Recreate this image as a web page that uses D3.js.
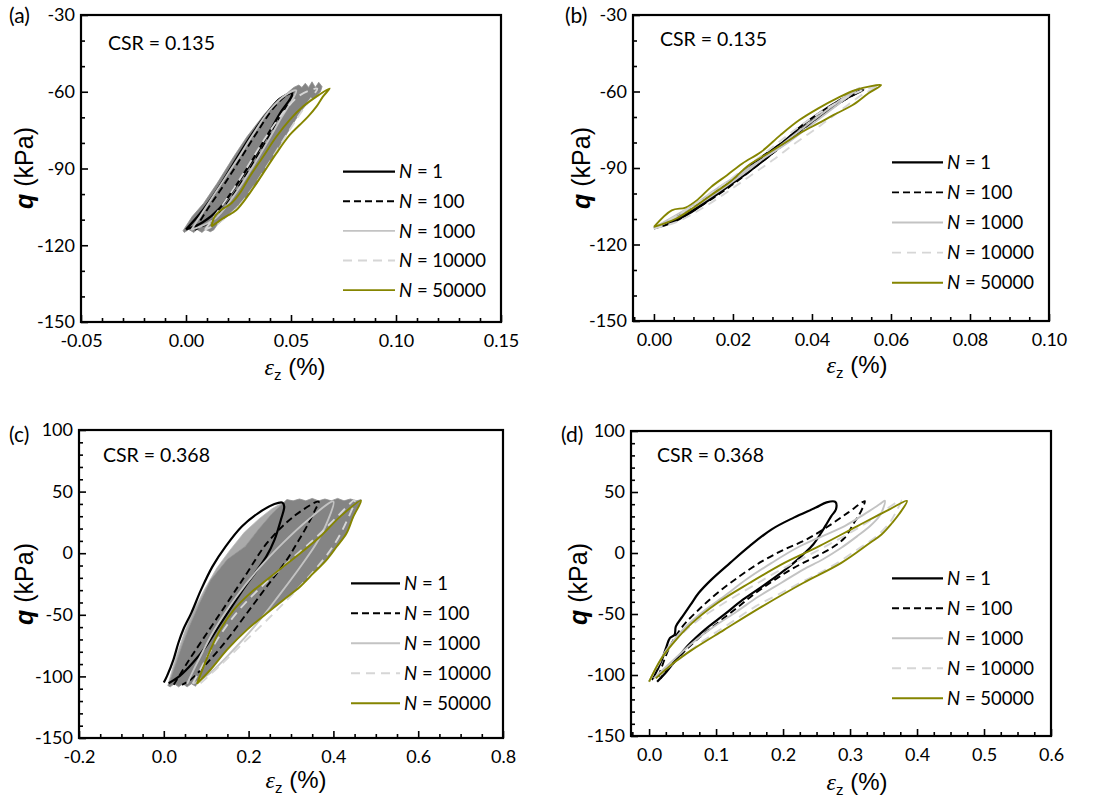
<!DOCTYPE html>
<html>
<head>
<meta charset="utf-8">
<script src="https://cdn.jsdelivr.net/npm/d3@7"></script>
<style>
  body { margin: 0; background: #fff; }
  .lato { font-family: Lato, "DejaVu Sans", sans-serif; }
  .arial { font-family: "Liberation Sans", Arial, sans-serif; }
</style>
</head>
<body>
<svg id="chart" width="1103" height="805"></svg>
<script>
// ---- tick labels ----
const aXTicks = [-0.05, 0, 0.05, 0.10, 0.15];
const bXTicks = [0, 0.02, 0.04, 0.06, 0.08, 0.10];
const cXTicks = [-0.2, 0, 0.2, 0.4, 0.6, 0.8];
const dXTicks = [0, 0.1, 0.2, 0.3, 0.4, 0.5, 0.6];
const abYTicks = [-150, -120, -90, -60, -30];
const cdYTicks = [-150, -100, -50, 0, 50, 100];

const legendLabels = ["1", "100", "1000", "10000", "50000"];

// ---- panel (a) CSR = 0.135, [strain %, q kPa] ----
const aBand = [[-0.0014,-114.3],[0.0029,-108.8],[0.0084,-103.6],[0.0148,-95.8],[0.0227,-85.4],[0.0290,-77.6],[0.0370,-69.1],[0.0433,-63.2],[0.0481,-60.6],[0.0513,-58.3],[0.0537,-57.4],[0.0552,-58.3],[0.0568,-56.7],[0.0584,-58.3],[0.0600,-56.1],[0.0616,-58.3],[0.0632,-56.3],[0.0648,-58.0],[0.0640,-60.0],[0.0616,-61.9],[0.0584,-64.0],[0.0552,-67.1],[0.0521,-71.0],[0.0481,-76.3],[0.0433,-82.8],[0.0386,-89.3],[0.0338,-95.8],[0.0290,-101.0],[0.0243,-104.9],[0.0195,-108.8],[0.0148,-112.1],[0.0132,-114.0],[0.0116,-114.7],[0.0092,-113.8],[0.0076,-115.0],[0.0052,-113.8],[0.0037,-115.0],[0.0013,-113.8],[-0.0008,-115.0]];
const aN1 = [[0.0,-113.8],[0.0068,-107.5],[0.0148,-98.4],[0.0227,-88.0],[0.0306,-77.6],[0.0386,-68.4],[0.0449,-62.6],[0.0505,-60.6],[0.0500,-62.2],[0.0455,-67.5],[0.0395,-76.0],[0.0318,-86.5],[0.0240,-96.5],[0.0160,-105.5],[0.0080,-111.0],[0.0,-113.8]];
const aN100 = [[0.0041,-114.0],[0.0100,-106.2],[0.0180,-96.5],[0.0260,-86.1],[0.0340,-75.6],[0.0420,-66.0],[0.0480,-61.3],[0.0515,-60.0],[0.0500,-63.0],[0.0440,-71.0],[0.0370,-81.0],[0.0290,-92.0],[0.0210,-102.0],[0.0130,-110.0],[0.0041,-114.0]];
const aN1000 = [[0.0025,-114.0],[0.0080,-107.0],[0.0160,-97.0],[0.0240,-87.0],[0.0320,-76.5],[0.0400,-67.0],[0.0470,-61.5],[0.0525,-59.5],[0.0510,-62.5],[0.0455,-70.0],[0.0385,-80.0],[0.0305,-91.0],[0.0225,-101.0],[0.0140,-109.5],[0.0025,-114.0]];
const aN10000 = [[0.0090,-114.0],[0.0150,-107.0],[0.0230,-97.5],[0.0310,-87.0],[0.0390,-76.5],[0.0470,-67.5],[0.0540,-61.5],[0.0625,-58.8],[0.0600,-62.0],[0.0540,-69.0],[0.0470,-78.0],[0.0390,-88.5],[0.0310,-98.5],[0.0230,-106.5],[0.0150,-111.5],[0.0090,-114.0]];
const aN50000 = [[0.0121,-112.7],[0.0137,-108.8],[0.0168,-106.2],[0.0216,-103.6],[0.0256,-99.7],[0.0303,-93.2],[0.0367,-85.4],[0.0430,-77.6],[0.0494,-71.0],[0.0557,-65.8],[0.0621,-61.9],[0.0684,-58.7],[0.0652,-61.9],[0.0621,-65.8],[0.0581,-69.7],[0.0541,-73.0],[0.0494,-76.9],[0.0430,-84.1],[0.0367,-91.9],[0.0303,-99.7],[0.0240,-106.2],[0.0176,-109.5],[0.0121,-112.7]];

// ---- panel (b) CSR = 0.135 ----
const bN1 = [[0,-113.7],[0.0041,-111.1],[0.0089,-107.2],[0.0137,-101.9],[0.0185,-96.7],[0.0233,-90.2],[0.0280,-84.9],[0.0328,-79.7],[0.0376,-73.2],[0.0424,-67.9],[0.0471,-63.4],[0.0530,-59.4],[0.0490,-62.5],[0.0440,-67.5],[0.0390,-73.0],[0.0340,-79.0],[0.0290,-85.5],[0.0240,-91.5],[0.0190,-97.0],[0.0140,-102.5],[0.0090,-107.8],[0.0045,-111.5],[0,-113.7]];
const bN100 = [[0.0005,-113.5],[0.0100,-105.5],[0.0200,-94.5],[0.0300,-83.0],[0.0400,-71.5],[0.0480,-62.5],[0.0525,-59.5],[0.0470,-64.5],[0.0390,-73.5],[0.0290,-85.5],[0.0190,-97.5],[0.0090,-107.5],[0.0005,-113.5]];
const bN1000 = [[0,-113.5],[0.0050,-109.0],[0.0100,-104.5],[0.0165,-97.5],[0.0220,-92.0],[0.0285,-85.5],[0.0340,-80.0],[0.0395,-73.5],[0.0450,-67.0],[0.0500,-61.0],[0.0520,-58.5],[0.0480,-62.5],[0.0410,-70.5],[0.0330,-80.0],[0.0250,-89.5],[0.0170,-98.5],[0.0090,-106.5],[0.0030,-111.5],[0,-113.5]];
const bN10000 = [[0,-113.8],[0.0060,-111.0],[0.0120,-106.0],[0.0180,-100.0],[0.0240,-93.5],[0.0300,-87.0],[0.0360,-80.0],[0.0420,-73.5],[0.0480,-66.5],[0.0530,-61.0],[0.0570,-58.0],[0.0520,-60.0],[0.0450,-65.5],[0.0370,-73.5],[0.0290,-83.0],[0.0210,-92.5],[0.0130,-101.5],[0.0060,-108.5],[0,-113.8]];
const bN50000 = [[0,-113.1],[0.0045,-106.6],[0.0080,-105.5],[0.0110,-102.5],[0.0145,-97.4],[0.0185,-92.8],[0.0224,-88.2],[0.0272,-83.6],[0.0320,-77.1],[0.0368,-71.2],[0.0416,-66.6],[0.0463,-62.7],[0.0511,-59.4],[0.0575,-57.5],[0.0543,-60.7],[0.0503,-65.3],[0.0455,-69.2],[0.0416,-72.5],[0.0376,-75.8],[0.0336,-79.7],[0.0288,-84.3],[0.0240,-88.9],[0.0193,-95.4],[0.0145,-100.6],[0.0097,-105.9],[0.0057,-109.8],[0.0025,-111.8],[0,-113.1]];

// ---- panel (c) CSR = 0.368 ----
const cBand = [[0.010,-107.5],[0.018,-100],[0.030,-88],[0.045,-73],[0.062,-58],[0.085,-40],[0.111,-21.5],[0.150,-5],[0.192,5.5],[0.225,20],[0.255,32],[0.280,40],[0.290,43.5],[0.305,42.5],[0.320,44],[0.335,42.5],[0.350,44.5],[0.365,42.5],[0.380,44],[0.395,42.5],[0.410,44.5],[0.425,42.5],[0.440,44],[0.455,42.5],[0.465,43.5],[0.465,42.7],[0.447,29.7],[0.431,16.2],[0.408,5.4],[0.384,-5.4],[0.353,-16.2],[0.322,-27.0],[0.282,-37.9],[0.243,-48.7],[0.196,-62.2],[0.149,-78.4],[0.110,-94.6],[0.078,-106.0],[0.075,-108],[0.065,-106],[0.055,-108.5],[0.045,-106],[0.035,-108.5],[0.025,-106],[0.015,-108.5]];
const cFan = [[0.012,-104],[0.022,-92],[0.035,-78],[0.050,-63],[0.070,-47],[0.095,-30],[0.125,-12],[0.155,2],[0.190,17],[0.225,28],[0.255,36],[0.275,40],[0.280,40],[0.255,32],[0.225,20],[0.192,5.5],[0.150,-5],[0.111,-21.5],[0.085,-40],[0.062,-58],[0.045,-73],[0.030,-88],[0.018,-100],[0.010,-107.5]];
const cN1 = [[0,-105],[0.0077,-99.6],[0.023,-86.1],[0.0345,-72.7],[0.046,-61.9],[0.065,-48.4],[0.088,-29.6],[0.115,-10.7],[0.146,5.5],[0.184,21.6],[0.222,32.4],[0.261,39.9],[0.280,41.0],[0.284,37.8],[0.276,27.0],[0.261,10.8],[0.242,-2.6],[0.215,-16.1],[0.192,-26.9],[0.161,-43.0],[0.130,-59.2],[0.100,-75.4],[0.069,-88.8],[0.038,-99.6],[0.0115,-105.5]];
const cN100 = [[0.0235,-106.8],[0.055,-89.2],[0.086,-73.0],[0.149,-40.6],[0.196,-16.2],[0.243,8.1],[0.306,29.7],[0.365,41.9],[0.357,35.1],[0.337,21.6],[0.314,8.1],[0.290,-5.4],[0.243,-27.0],[0.196,-48.7],[0.149,-70.3],[0.102,-89.2],[0.063,-102.7],[0.043,-106.8]];
const cN1000 = [[0.055,-106],[0.08,-88],[0.12,-62],[0.17,-36],[0.22,-14],[0.28,8],[0.34,27],[0.40,42],[0.385,25],[0.36,8],[0.32,-12],[0.27,-35],[0.22,-57],[0.16,-80],[0.11,-97],[0.07,-106]];
const cN10000 = [[0.068,-106],[0.09,-92],[0.13,-68],[0.18,-45],[0.24,-24],[0.30,-5],[0.36,13],[0.41,30],[0.45,43],[0.43,25],[0.40,6],[0.36,-12],[0.31,-31],[0.25,-52],[0.19,-72],[0.13,-92],[0.085,-106]];
const cN50000 = [[0.078,-106.0],[0.094,-91.9],[0.110,-78.4],[0.133,-62.2],[0.165,-46.0],[0.204,-32.4],[0.243,-21.6],[0.282,-10.8],[0.322,0],[0.369,13.5],[0.416,29.7],[0.465,42.7],[0.447,29.7],[0.431,16.2],[0.408,5.4],[0.384,-5.4],[0.353,-16.2],[0.322,-27.0],[0.282,-37.9],[0.243,-48.7],[0.196,-62.2],[0.149,-78.4],[0.110,-94.6],[0.078,-106.0]];

// ---- panel (d) CSR = 0.368 ----
const dN1 = [[0.004,-104],[0.007,-101.4],[0.019,-87.7],[0.026,-76.7],[0.031,-69.8],[0.038,-67.1],[0.040,-60.2],[0.050,-52.0],[0.062,-42.4],[0.074,-32.8],[0.093,-21.8],[0.121,-8.1],[0.150,5.6],[0.183,19.4],[0.216,29.0],[0.249,37.2],[0.265,41.5],[0.278,41.9],[0.279,35.8],[0.272,30.3],[0.266,24.8],[0.257,16.6],[0.245,7.0],[0.230,-1.2],[0.216,-8.1],[0.197,-16.3],[0.169,-27.3],[0.140,-38.3],[0.112,-50.6],[0.083,-63.0],[0.059,-75.3],[0.040,-87.7],[0.026,-97.3],[0.012,-105.5]];
const dN100 = [[0.014,-101.4],[0.031,-76.7],[0.050,-60.2],[0.074,-46.5],[0.102,-32.8],[0.135,-19.1],[0.169,-6.7],[0.202,2.9],[0.235,11.1],[0.268,22.1],[0.297,33.1],[0.322,42.5],[0.321,39.9],[0.314,31.7],[0.306,24.8],[0.292,12.5],[0.273,4.3],[0.245,-4.0],[0.216,-12.2],[0.188,-21.8],[0.159,-32.8],[0.131,-45.1],[0.102,-57.5],[0.074,-69.8],[0.050,-82.2],[0.031,-93.2],[0.017,-102.8]];
const dN1000 = [[0,-105.5],[0.026,-79.4],[0.050,-63.0],[0.078,-49.2],[0.112,-35.5],[0.145,-21.8],[0.183,-8.1],[0.221,4.3],[0.259,13.9],[0.292,22.1],[0.321,31.7],[0.344,39.9],[0.352,42.8],[0.349,35.8],[0.344,30.3],[0.330,22.1],[0.311,13.9],[0.287,4.3],[0.259,-5.3],[0.230,-13.6],[0.197,-24.6],[0.164,-35.5],[0.131,-47.9],[0.097,-60.2],[0.064,-73.9],[0.031,-90.4],[0.007,-102.8]];
const dN10000 = [[0,-105.5],[0.021,-84.9],[0.045,-68.5],[0.074,-54.7],[0.112,-41.0],[0.154,-27.3],[0.197,-13.6],[0.245,0.1],[0.287,12.5],[0.325,24.8],[0.354,35.8],[0.376,43.0],[0.368,33.1],[0.359,24.8],[0.340,13.9],[0.311,2.9],[0.273,-10.8],[0.235,-21.8],[0.197,-32.8],[0.159,-43.8],[0.121,-57.5],[0.083,-71.2],[0.050,-84.9],[0.017,-98.6]];
const dN50000 = [[0,-105.5],[0.017,-87.7],[0.036,-73.9],[0.064,-57.5],[0.102,-41.0],[0.150,-24.6],[0.202,-8.1],[0.254,5.6],[0.311,22.1],[0.359,35.8],[0.385,42.7],[0.373,31.7],[0.363,24.8],[0.347,15.2],[0.330,8.4],[0.287,-8.1],[0.230,-24.6],[0.169,-43.8],[0.112,-63.0],[0.064,-79.4],[0.036,-90.4],[0.010,-102.8]];

// ---- styles for N = 1, 100, 1000, 10000, 50000 ----
const seriesStyle = [
  { stroke: "#000000", width: 2.2, dash: null },
  { stroke: "#000000", width: 1.9, dash: "7,4" },
  { stroke: "#c3c3c3", width: 1.9, dash: null },
  { stroke: "#d6d6d6", width: 1.9, dash: "9,6" },
  { stroke: "#858500", width: 1.9, dash: null }
];

const panels = [
  { tag: "(a)", box: [81, 501, 15, 322], xd: [-0.05, 0.15], yd: [-150, -30],
    xt: aXTicks, xm: 0.01, yt: abYTicks, ym: 10, dec: 2,
    series: [aN1, aN100, aN1000, aN10000, aN50000], band: aBand, fan: null,
    csr: "CSR = 0.135", csrAt: [108, 50], tagAt: [9, 23], leg: [343, 395, 171.7, 29.6],
    yTitle: [24, 168], xTitle: [295, 375] },
  { tag: "(b)", box: [633, 1049, 15, 321], xd: [-0.0053, 0.10], yd: [-150, -30],
    xt: bXTicks, xm: 0.005, yt: abYTicks, ym: 10, dec: 2,
    series: [bN1, bN100, bN1000, bN10000, bN50000], band: null, fan: null,
    csr: "CSR = 0.135", csrAt: [660, 46], tagAt: [565, 23], leg: [892, 943, 162.3, 30.1],
    yTitle: [581, 168], xTitle: [857, 373] },
  { tag: "(c)", box: [79, 503, 430, 738], xd: [-0.2, 0.8], yd: [-150, 100],
    xt: cXTicks, xm: 0.05, yt: cdYTicks, ym: 10, dec: 1,
    series: [cN1, cN100, cN1000, cN10000, cN50000], band: cBand, fan: cFan,
    csr: "CSR = 0.368", csrAt: [103, 462], tagAt: [9, 442], leg: [351, 400, 583.3, 30],
    yTitle: [24, 584], xTitle: [296, 788] },
  { tag: "(d)", box: [631, 1051, 431, 736], xd: [-0.027, 0.6], yd: [-150, 100],
    xt: dXTicks, xm: 0.025, yt: cdYTicks, ym: 10, dec: 1,
    series: [dN1, dN100, dN1000, dN10000, dN50000], band: null, fan: null,
    csr: "CSR = 0.368", csrAt: [657, 462], tagAt: [561, 442], leg: [892, 943, 578.3, 30],
    yTitle: [578, 584], xTitle: [857, 790] }
];

const svg = d3.select("#chart");
const hyphen = s => s.replace("\u2212", "-");

function minorTicks(domain, step, majors) {
  const out = [];
  const start = Math.ceil(domain[0] / step - 1e-6);
  const end = Math.floor(domain[1] / step + 1e-6);
  for (let i = start; i <= end; i++) {
    const v = +(i * step).toFixed(6);
    if (!majors.some(m => Math.abs(m - v) < step / 10)) out.push(v);
  }
  return out;
}

panels.forEach(p => {
  const [l, r, t, b] = p.box;
  const x = d3.scaleLinear().domain(p.xd).range([l, r]);
  const y = d3.scaleLinear().domain(p.yd).range([b, t]);
  const g = svg.append("g");

  const line = d3.line().x(d => x(d[0])).y(d => y(d[1])).curve(d3.curveCatmullRom.alpha(0.5));
  const poly = d3.line().x(d => x(d[0])).y(d => y(d[1])).curve(d3.curveLinearClosed);

  // intermediate cycles drawn as grey envelope
  if (p.fan) g.append("path").attr("d", poly(p.fan)).attr("fill", "#aaaaaa").attr("stroke", "#b9b9b9").attr("stroke-width", 0.8);
  if (p.band) g.append("path").attr("d", poly(p.band)).attr("fill", "#848484").attr("stroke", "#8f8f8f").attr("stroke-width", 0.8);

  // cycle loops
  p.series.forEach((s, i) => {
    const st = seriesStyle[i];
    g.append("path").attr("d", line(s)).attr("fill", "none")
      .attr("stroke", st.stroke).attr("stroke-width", st.width)
      .attr("stroke-dasharray", st.dash).attr("stroke-linejoin", "round");
  });

  // axes (ticks inward)
  const fmtX = d => hyphen(d3.format(`.${p.dec}f`)(d));
  const fmtY = d => hyphen(d3.format("d")(d));
  const xAxis = g.append("g").attr("transform", `translate(0,${b})`)
    .call(d3.axisBottom(x).tickValues(p.xt).tickSize(-7).tickPadding(12).tickFormat(fmtX));
  const xMinor = g.append("g").attr("transform", `translate(0,${b})`)
    .call(d3.axisBottom(x).tickValues(minorTicks(p.xd, p.xm, p.xt)).tickSize(-4).tickFormat(""));
  const yAxis = g.append("g").attr("transform", `translate(${l},0)`)
    .call(d3.axisLeft(y).tickValues(p.yt).tickSize(-7).tickPadding(6).tickFormat(fmtY));
  const yMinor = g.append("g").attr("transform", `translate(${l},0)`)
    .call(d3.axisLeft(y).tickValues(minorTicks(p.yd, p.ym, p.yt)).tickSize(-4).tickFormat(""));
  [xAxis, xMinor, yAxis, yMinor].forEach(a => {
    a.select(".domain").remove();
    a.attr("font-family", null).attr("font-size", null);
    a.selectAll("line").attr("stroke", "#000").attr("stroke-width", 1.6);
    a.selectAll("text").attr("class", "lato").attr("font-size", 18).attr("fill", "#000");
  });

  g.append("rect").attr("x", l).attr("y", t).attr("width", r - l).attr("height", b - t)
    .attr("fill", "none").attr("stroke", "#000").attr("stroke-width", 2.2);

  // labels
  g.append("text").attr("class", "lato").attr("x", p.tagAt[0]).attr("y", p.tagAt[1])
    .attr("font-size", 21).text(p.tag);
  g.append("text").attr("class", "lato").attr("x", p.csrAt[0]).attr("y", p.csrAt[1])
    .attr("font-size", 19.5).text(p.csr);

  const yt = g.append("text").attr("class", "arial").attr("font-size", 25)
    .attr("text-anchor", "middle")
    .attr("transform", `translate(${p.yTitle[0]},${p.yTitle[1]}) rotate(-90)`).attr("dy", "0.35em");
  yt.append("tspan").attr("font-style", "italic").attr("font-weight", "bold").text("q");
  yt.append("tspan").text(" (kPa)");

  const xt = g.append("text").attr("class", "arial").attr("font-size", 24)
    .attr("text-anchor", "middle").attr("x", p.xTitle[0]).attr("y", p.xTitle[1]);
  xt.append("tspan").attr("font-style", "italic").attr("font-family", "'Liberation Serif', serif").text("\u03b5");
  xt.append("tspan").attr("font-size", 15).attr("dy", 5).text("z");
  xt.append("tspan").attr("dy", -5).text(" (%)");

  // legend
  const [lx0, lx1, ly0, ldy] = p.leg;
  legendLabels.forEach((lab, i) => {
    const st = seriesStyle[i];
    const yy = ly0 + i * ldy;
    g.append("line").attr("x1", lx0).attr("x2", lx1).attr("y1", yy).attr("y2", yy)
      .attr("stroke", st.stroke).attr("stroke-width", st.width).attr("stroke-dasharray", st.dash);
    const tx = g.append("text").attr("class", "lato").attr("font-size", 18.5)
      .attr("x", lx1 + 4).attr("y", yy).attr("dy", "0.36em");
    tx.append("tspan").attr("font-style", "italic").text("N");
    tx.append("tspan").text(" = " + lab);
  });
});
</script>
</body>
</html>
